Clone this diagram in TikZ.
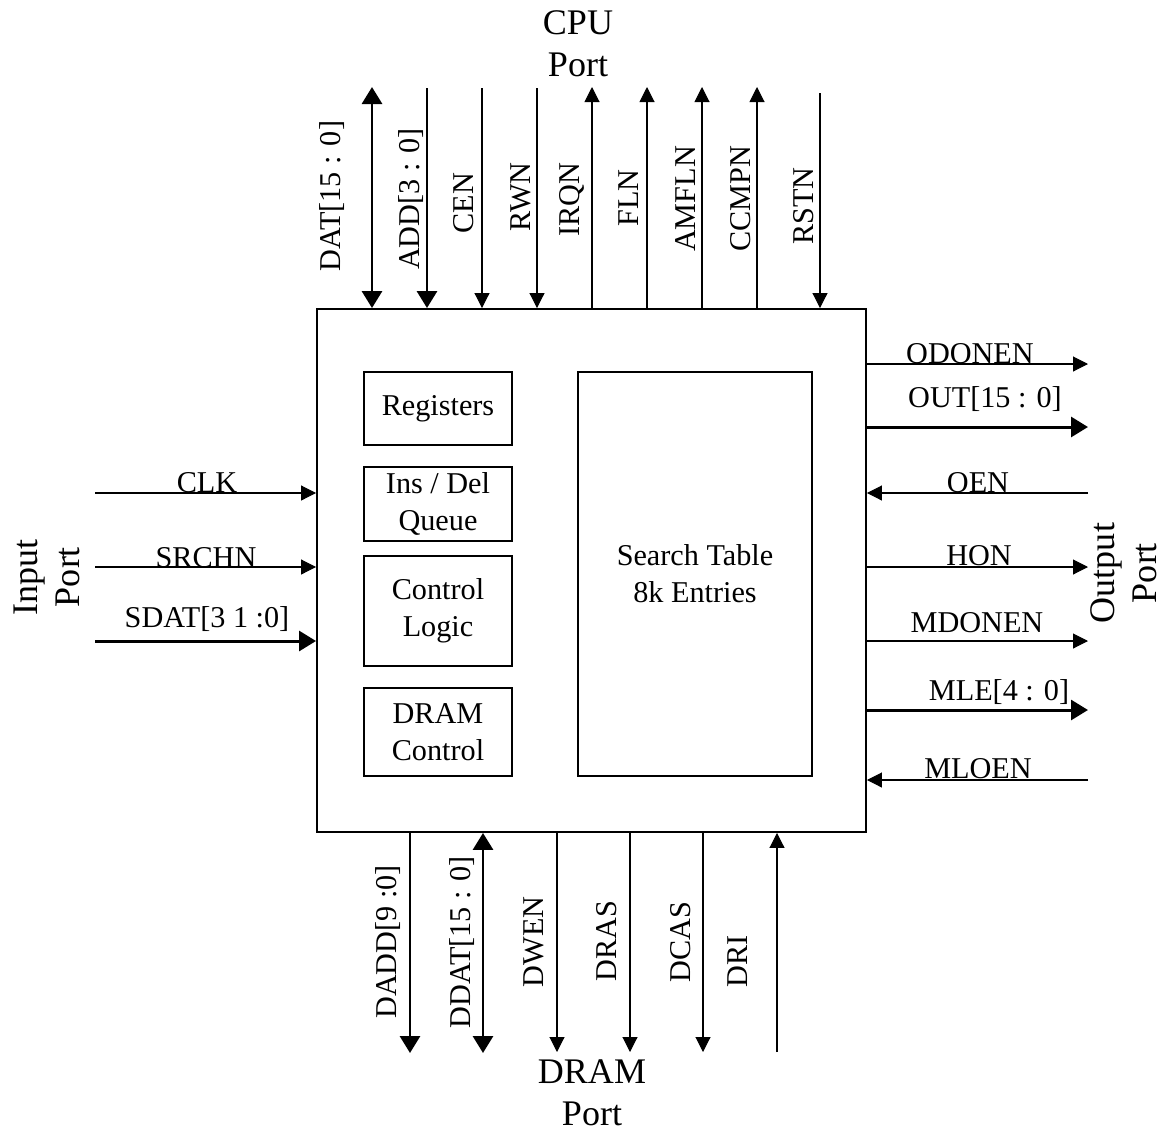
\documentclass[tikz,border=0pt]{standalone}
\usepackage{fontspec}
\setmainfont{Liberation Serif}
\usetikzlibrary{arrows.meta,positioning,fit}
\tikzset{
  pinsig/.style={-{Triangle[length=3mm,width=3mm]}, line width=0.6pt},
  pinbus/.style={-{Triangle[length=3.4mm,width=4mm]}, line width=1.7pt},
  pinboth/.style={pinbus, {Triangle[length=3.4mm,width=4mm]}-{Triangle[length=3.4mm,width=4mm]}},
  pinlbl/.style={font=\fontsize{17.2}{21}\selectfont, inner sep=0pt, anchor=base},
  portlbl/.style={font=\fontsize{20.5}{24}\selectfont, align=center, inner sep=0pt},
}

\begin{document}
\begin{tikzpicture}[
  x=0.02cm, y=-0.02cm,
  chipbox/.style={draw, line width=1.1pt, inner sep=0pt},
  blk/.style={draw, line width=0.8pt, inner sep=0pt, align=center,
    minimum width=2.96cm, font=\fontsize{17.2}{21}\selectfont},
]
  \useasboundingbox (0,0) rectangle (1167,1133);
  % chip and inner blocks
  \node[chipbox, fit={(317,309) (866,832)}] (chip) {};
  \node[blk, minimum height=1.46cm] (reg) at (438,408.5) {Registers};
  \node[blk, minimum height=1.48cm] (insdel) at (438,504) {Ins / Del\\Queue};
  \node[blk, minimum height=2.2cm] (ctl) at (438,611) {Control\\Logic};
  \node[blk, minimum height=1.76cm] (dctl) at (438,732) {DRAM\\Control};
  \node[blk, minimum width=4.68cm, minimum height=8.08cm] (stab) at (695,574) {Search Table\\8k Entries};

  % port names
  \node[portlbl] (cpuport) at (578,44) {CPU\\Port};
  \node[portlbl] (dramport) at (592,1093) {DRAM\\Port};
  \node[portlbl, rotate=90] (inport) at (47,577) {Input\\Port};
  \node[portlbl, rotate=90] (outport) at (1124,573) {Output\\Port};

  % CPU port
  \coordinate (datE) at (372,87);
  \coordinate (addE) at (427,88);
  \coordinate (cenE) at (482,88);
  \coordinate (rwnE) at (537,88);
  \coordinate (irqnE) at (592,87);
  \coordinate (flnE) at (647,87);
  \coordinate (amflnE) at (702,87);
  \coordinate (ccmpnE) at (757,87);
  \coordinate (rstnE) at (820,93);
  \draw[pinboth] (datE) -- (datE |- chip.north);
  \draw[pinbus] (addE) -- (addE |- chip.north);
  \draw[pinsig] (cenE) -- (cenE |- chip.north);
  \draw[pinsig] (rwnE) -- (rwnE |- chip.north);
  \draw[pinsig] (irqnE |- chip.north) -- (irqnE);
  \draw[pinsig] (flnE |- chip.north) -- (flnE);
  \draw[pinsig] (amflnE |- chip.north) -- (amflnE);
  \draw[pinsig] (ccmpnE |- chip.north) -- (ccmpnE);
  \draw[pinsig] (rstnE) -- (rstnE |- chip.north);
  \node[pinlbl, rotate=90] (datL) at (340,196) {DAT[15 : 0]};
  \node[pinlbl, rotate=90] (addL) at (419,199) {ADD[3 : 0]};
  \node[pinlbl, rotate=90] (cenL) at (473,203) {CEN};
  \node[pinlbl, rotate=90] (rwnL) at (530,197) {RWN};
  \node[pinlbl, rotate=90] (irqnL) at (579,200) {IRQN};
  \node[pinlbl, rotate=90] (flnL) at (638,198) {FLN};
  \node[pinlbl, rotate=90] (amflnL) at (695,199) {AMFLN};
  \node[pinlbl, rotate=90] (ccmpnL) at (750,199) {CCMPN};
  \node[pinlbl, rotate=90] (rstnL) at (813,206) {RSTN};

  % DRAM port
  \coordinate (daddE) at (410,1053);
  \coordinate (ddatE) at (483,1053);
  \coordinate (dwenE) at (557,1052);
  \coordinate (drasE) at (630,1052);
  \coordinate (dcasE) at (703,1052);
  \coordinate (driE) at (777,1052);
  \draw[pinbus] (daddE |- chip.south) -- (daddE);
  \draw[pinboth] (ddatE |- chip.south) -- (ddatE);
  \draw[pinsig] (dwenE |- chip.south) -- (dwenE);
  \draw[pinsig] (drasE |- chip.south) -- (drasE);
  \draw[pinsig] (dcasE |- chip.south) -- (dcasE);
  \draw[pinsig] (driE) -- (driE |- chip.south);
  \node[pinlbl, rotate=90] (daddL) at (396,942) {DADD[9 :0]};
  \node[pinlbl, rotate=90] (ddatL) at (470,942) {DDAT[15 : 0]};
  \node[pinlbl, rotate=90] (dwenL) at (543,942) {DWEN};
  \node[pinlbl, rotate=90] (drasL) at (616,941) {DRAS};
  \node[pinlbl, rotate=90] (dcasL) at (690,942) {DCAS};
  \node[pinlbl, rotate=90] (driL) at (747,961) {DRI};

  % input port
  \coordinate (clkE) at (95,493);
  \coordinate (srchnE) at (95,567);
  \coordinate (sdatE) at (95,641);
  \draw[pinsig] (clkE) -- (clkE -| chip.west);
  \draw[pinsig] (srchnE) -- (srchnE -| chip.west);
  \draw[pinbus] (sdatE) -- (sdatE -| chip.west);
  \node[pinlbl] (clkL) at (207,492) {CLK};
  \node[pinlbl] (srchnL) at (206,567) {SRCHN};
  \node[pinlbl] (sdatL) at (207,627) {SDAT[3 1 :0]};

  % output port
  \coordinate (odonenE) at (1088,364);
  \coordinate (outE) at (1088,427);
  \coordinate (oenE) at (1088,493);
  \coordinate (honE) at (1088,567);
  \coordinate (mdonenE) at (1088,641);
  \coordinate (mleE) at (1088,710);
  \coordinate (mloenE) at (1088,780);
  \draw[pinsig] (odonenE -| chip.east) -- (odonenE);
  \draw[pinbus] (outE -| chip.east) -- (outE);
  \draw[pinsig] (oenE) -- (oenE -| chip.east);
  \draw[pinsig] (honE -| chip.east) -- (honE);
  \draw[pinsig] (mdonenE -| chip.east) -- (mdonenE);
  \draw[pinbus] (mleE -| chip.east) -- (mleE);
  \draw[pinsig] (mloenE) -- (mloenE -| chip.east);
  \node[pinlbl] (odonenL) at (970,363) {ODONEN};
  \node[pinlbl] (outL) at (985,407) {OUT[15 : 0]};
  \node[pinlbl] (oenL) at (978,492) {OEN};
  \node[pinlbl] (honL) at (979,565) {HON};
  \node[pinlbl] (mdonenL) at (977,632) {MDONEN};
  \node[pinlbl] (mleL) at (999,700) {MLE[4 : 0]};
  \node[pinlbl] (mloenL) at (978,778) {MLOEN};
\end{tikzpicture}
\end{document}
